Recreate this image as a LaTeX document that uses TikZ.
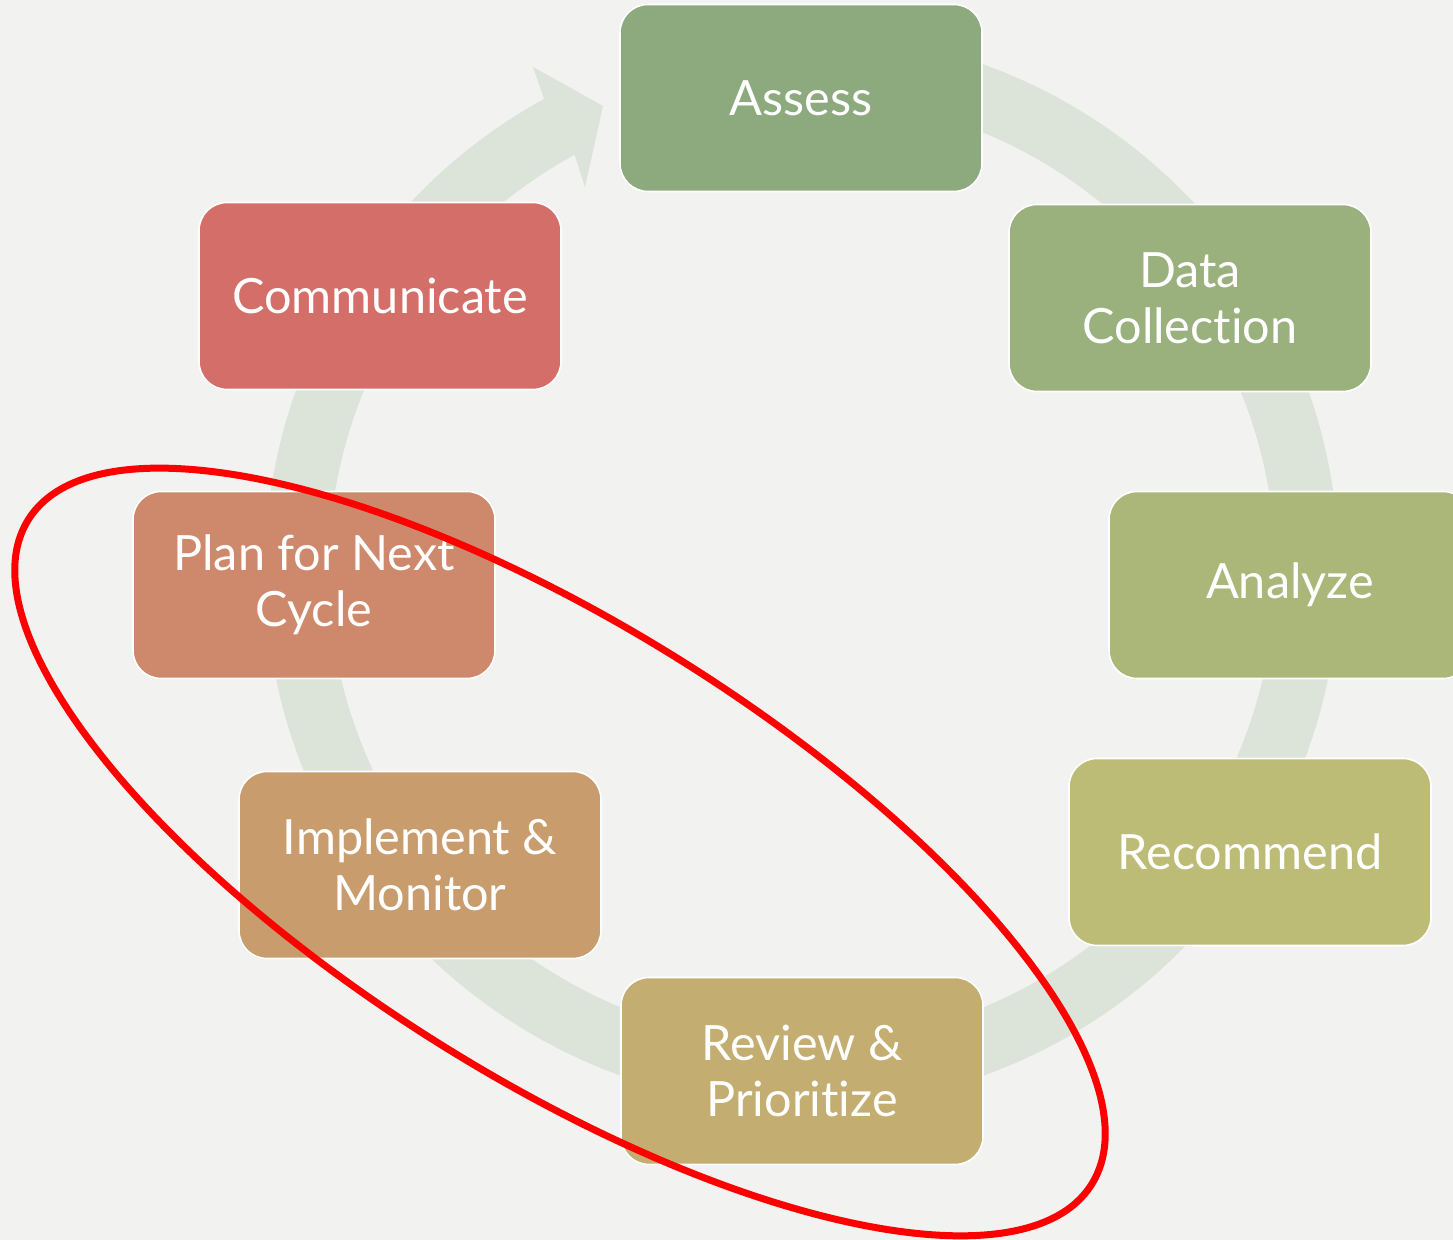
\documentclass[tikz,border=0pt]{standalone}
\usepackage{fontspec}
\setmainfont{Lato}[Ligatures={NoCommon,NoRare,NoContextual}]
\definecolor{bgcol}{HTML}{F2F2F0}
\definecolor{ringcol}{HTML}{DCE3D9}
\definecolor{assesscol}{HTML}{8DAA7F}
\definecolor{datacol}{HTML}{9AB07D}
\definecolor{analyzecol}{HTML}{AAB779}
\definecolor{recommendcol}{HTML}{BDBC77}
\definecolor{reviewcol}{HTML}{C3AD70}
\definecolor{implementcol}{HTML}{C89C6C}
\definecolor{plancol}{HTML}{CE896C}
\definecolor{communicatecol}{HTML}{D46E69}

\begin{document}
\begin{tikzpicture}[x=0.5pt, y=0.5pt,
  stage/.style={draw=white, line width=0.8pt, rounded corners=14pt,
    minimum width=181pt, minimum height=93.5pt, inner sep=0pt,
    text=white, align=center, font=\fontsize{24.3}{28}\selectfont}]

\fill [bgcol] (0,0) rectangle (1453,1240);
\useasboundingbox (0,0) rectangle (1453,1240);

% the cycle arrow
\begin{scope}[shift={(802,670)}]
\fill [ringcol] (95:537)
   arc [start angle=95, end angle=-241.3, radius=537]
   -- (-269,503) -- (-199,464) -- (-217,383)
   -- (-241.3:473.5)
   arc [start angle=-241.3, end angle=95, radius=473.5] -- cycle;
\end{scope}

\foreach \name/\x/\y/\col/\txt in {
   assess/801/1142/assesscol/{Assess},
   datacoll/1190/942/datacol/{Data\\Collection},
   analyze/1290/655/analyzecol/{Analyze},
   recommend/1250/388/recommendcol/{Recommend},
   review/802/169/reviewcol/{Review \&\\Prioritize},
   implement/420/375/implementcol/{Implement \&\\Monitor},
   plan/314/655/plancol/{Plan for Next\\Cycle},
   communicate/380/944/communicatecol/{Communicate}}
   \node [stage, fill=\col] (\name) at (\x,\y) {\txt};

\draw [red, line width=3.5pt, rotate around={-32:(560,388)}]
   (560,388) ellipse [x radius=627, y radius=226.5];

\end{tikzpicture}
\end{document}
